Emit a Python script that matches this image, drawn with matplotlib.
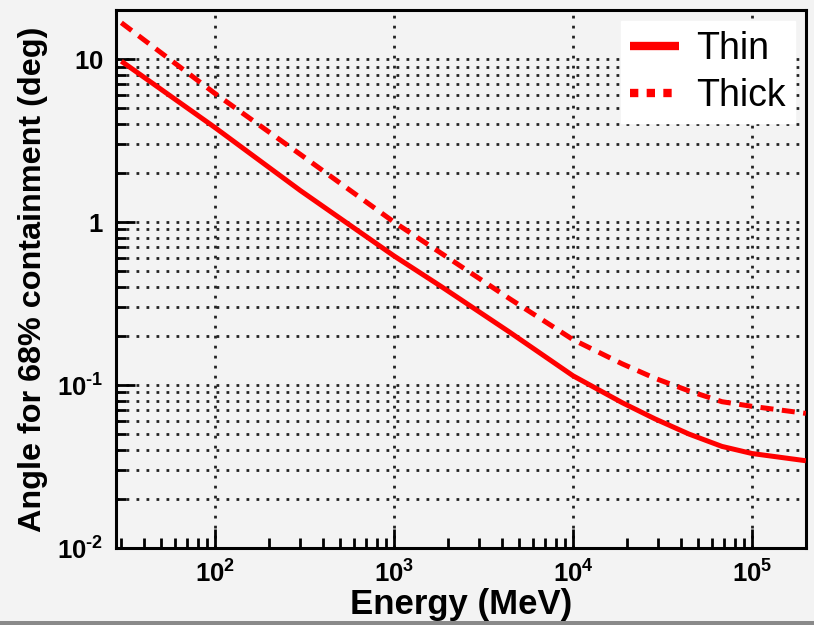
import numpy as np
import matplotlib
matplotlib.use("Agg")
import matplotlib.pyplot as plt
from matplotlib.lines import Line2D
from matplotlib.ticker import LogLocator, FixedLocator, NullFormatter
from matplotlib.patches import Rectangle

# data (energy in MeV, angle in deg)
energy = [30, 100, 300, 1000, 1850, 4400, 10000, 18800, 28700, 44500, 68000, 100000, 200000]
thin = [9.7, 3.8, 1.56, 0.62, 0.40, 0.212, 0.114, 0.078, 0.062, 0.050, 0.042, 0.038, 0.0343]
thick = [16.7, 6.15, 2.6, 1.0, 0.64, 0.34, 0.19, 0.135, 0.11, 0.092, 0.079, 0.074, 0.067]

x_ticks = [1e2, 1e3, 1e4, 1e5]
x_labels = [r"$\mathbf{10^{2}}$", r"$\mathbf{10^{3}}$", r"$\mathbf{10^{4}}$", r"$\mathbf{10^{5}}$"]
y_ticks = [1e-2, 1e-1, 1, 10]
y_labels = [r"$\mathbf{10^{\text{-}2}}$", r"$\mathbf{10^{\text{-}1}}$", r"$\mathbf{1}$", r"$\mathbf{10}$"]

BG = "#f3f3f3"
RED = "#ff0000"

plt.rcParams["font.family"] = ["Liberation Sans", "DejaVu Sans"]
plt.rcParams["mathtext.fontset"] = "custom"
plt.rcParams["mathtext.rm"] = "Liberation Sans:bold"
plt.rcParams["mathtext.bf"] = "Liberation Sans:bold"

fig = plt.figure(figsize=(8.14, 6.25), dpi=100, facecolor=BG)
ax = fig.add_axes([0.1425, 0.1232, 0.8475, 0.8608], facecolor=BG)

ax.plot(energy, thin, color=RED, lw=3.6, solid_capstyle="butt", zorder=3)
ax.plot(energy, thick, color=RED, lw=3.6, linestyle=(0, (2.6, 1.7)), zorder=3)

ax.set_xscale("log")
ax.set_yscale("log")
ax.set_xlim(28, 2e5)
ax.set_ylim(0.01, 20)

ax.xaxis.set_major_locator(FixedLocator(x_ticks))
ax.set_xticklabels(x_labels)
ax.xaxis.set_minor_locator(LogLocator(base=10, subs=np.arange(2, 10)))
ax.xaxis.set_minor_formatter(NullFormatter())
ax.yaxis.set_major_locator(FixedLocator(y_ticks))
ax.set_yticklabels(y_labels)
ax.yaxis.set_minor_locator(LogLocator(base=10, subs=np.arange(2, 10)))
ax.yaxis.set_minor_formatter(NullFormatter())

ax.tick_params(which="major", direction="in", length=14, width=2, labelsize=18.5, pad=9,
               top=False, right=False)
ax.tick_params(which="minor", direction="in", length=7, width=2, top=False, right=False)

grid_style = dict(color="#222222", linestyle=(0, (1, 2.6)), linewidth=2.0)
ax.yaxis.grid(True, which="both", **grid_style)
ax.xaxis.grid(True, which="major", **grid_style)
ax.set_axisbelow(True)

for sp in ax.spines.values():
    sp.set_linewidth(2.2)
    sp.set_color("black")

ax.set_xlabel("Energy (MeV)", fontsize=25, fontweight="bold", labelpad=0)
ax.set_ylabel("Angle for 68% containment (deg)", fontsize=23.3, fontweight="bold")
ax.yaxis.set_label_coords(-0.098, 0.50)

handles = [Line2D([], [], color=RED, lw=6, solid_capstyle="butt"),
           Line2D([], [], color=RED, lw=6, linestyle=(0, (1, 1)))]
leg = ax.legend(handles, ["Thin", "Thick"], loc="upper right", fontsize=27, frameon=True,
                fancybox=False, handlelength=1.3, handletextpad=0.45, borderpad=0.25,
                labelspacing=0.3, borderaxespad=0.3)
leg.get_frame().set_facecolor("white")
leg.get_frame().set_edgecolor("white")
leg.get_frame().set_alpha(1)

# grey strip at the bottom of the image
fig.patches.append(Rectangle((0, 0), 1, 0.007, transform=fig.transFigure,
                             facecolor="#8a8a8a", edgecolor="none"))

fig.savefig("out.png", dpi=100, facecolor=BG)
